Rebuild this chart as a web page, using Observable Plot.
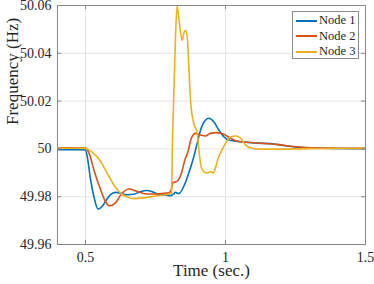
<!DOCTYPE html>
<html><head><meta charset="utf-8">
<script src="https://cdn.jsdelivr.net/npm/d3@7"></script>
<script src="https://cdn.jsdelivr.net/npm/@observablehq/plot@0.6"></script>
<style>
body{margin:0;background:#fff;}
#wrap{position:relative;width:374px;height:284px;}
#legend{position:absolute;left:292px;top:11px;width:65px;height:45px;border:1px solid #8c8c8c;background:#fff;font-family:"Liberation Serif",serif;font-size:12.5px;color:#262626;padding-top:1px;}
.row{display:flex;align-items:center;height:15.5px;white-space:nowrap}
.sw{width:21px;height:0;border-top:2px solid;margin-left:3px;margin-right:2px}
</style></head>
<body><div id="wrap"><div id="legend"></div></div>
<script>
const nodes = ["Node 1", "Node 2", "Node 3"];
const colors = ["#0072BD", "#D95319", "#EDB120"];
const xTicks = [0.5, 1, 1.5];
const xTickLabels = ["0.5", "1", "1.5"];
const yTicks = [49.96, 49.98, 50, 50.02, 50.04, 50.06];
const yTickLabels = ["49.96", "49.98", "50", "50.02", "50.04", "50.06"];
const xLabel = "Time (sec.)";
const yLabel = "Frequency (Hz)";

const node1T = [0.40,0.47,0.50,0.508,0.518,0.53,0.545,0.56,0.575,0.589,0.607,0.625,0.649,0.672,0.696,0.72,0.745,0.768,0.786,0.804,0.815,0.821,0.833,0.851,0.869,0.887,0.899,0.911,0.929,0.94,0.958,0.976,0.994,1.012,1.054,1.113,1.16,1.208,1.256,1.35,1.5];
const node1F = [49.9997,49.9997,49.9996,49.9955,49.9872,49.9800,49.9748,49.9760,49.9787,49.9808,49.9818,49.9815,49.9808,49.9810,49.9821,49.9826,49.9818,49.9808,49.9807,49.9804,49.9812,49.9818,49.9813,49.9843,49.9899,49.9968,50.0024,50.0079,50.0121,50.0128,50.0114,50.0079,50.0051,50.0037,50.0030,50.0024,50.0022,50.0014,50.0007,50.0003,50.0001];

const node2T = [0.40,0.47,0.50,0.515,0.53,0.554,0.571,0.587,0.607,0.625,0.655,0.685,0.72,0.756,0.798,0.806,0.812,0.827,0.843,0.855,0.866,0.878,0.893,0.911,0.929,0.946,0.97,0.994,1.012,1.042,1.113,1.185,1.244,1.304,1.4,1.5];
const node2F = [50.0005,50.0005,50.0004,49.9975,49.9912,49.9829,49.9780,49.9762,49.9774,49.9806,49.9832,49.9822,49.9811,49.9812,49.9816,49.9830,49.9858,49.9864,49.9900,49.9954,49.9988,50.0045,50.0065,50.0058,50.0054,50.0065,50.0068,50.0061,50.0049,50.0032,50.0025,50.0019,50.0010,50.0005,50.0003,50.0002];

const node3T = [0.40,0.47,0.50,0.515,0.53,0.554,0.577,0.601,0.625,0.649,0.672,0.708,0.756,0.798,0.807,0.811,0.816,0.821,0.827,0.837,0.845,0.851,0.858,0.864,0.868,0.875,0.886,0.899,0.905,0.913,0.922,0.935,0.946,0.956,0.964,0.976,0.988,1.0,1.018,1.036,1.054,1.071,1.095,1.125,1.2,1.3,1.5];
const node3F = [50.0003,50.0003,50.0002,49.9993,49.9980,49.9947,49.9899,49.9850,49.9815,49.9799,49.9792,49.9795,49.9804,49.9811,49.9815,50.0050,50.0250,50.0450,50.0598,50.0510,50.0454,50.0483,50.0496,50.0460,50.0370,50.0204,50.0110,50.0066,49.9996,49.9926,49.9905,49.9899,49.9905,49.9899,49.9920,49.9968,49.9996,50.0024,50.0049,50.0054,50.0045,50.0017,50.0003,49.9999,49.9999,50.0001,50.0002];

const series = [[node1T, node1F], [node2T, node2F], [node3T, node3F]];
const rows = [];
series.forEach(([T, F], k) => T.forEach((t, i) => rows.push({t, f: F[i], node: nodes[k]})));

const W = 374, H = 284, mL = 57, mR = 9, mT = 5, mB = 40;
const pw = W - mL - mR, ph = H - mT - mB, tk = 4;
const axisColor = "#888";
const serif = '"Liberation Serif", serif';

const chart = Plot.plot({
  width: W, height: H, marginLeft: mL, marginRight: mR, marginTop: mT, marginBottom: mB,
  style: {fontFamily: serif, fontSize: "14px", color: "#262626", background: "#fff", overflow: "visible"},
  x: {domain: [0.4, 1.5]},
  y: {domain: [49.96, 50.06]},
  color: {domain: nodes, range: colors},
  marks: [
    Plot.gridX(xTicks, {stroke: "#e3e3e3", strokeOpacity: 1}),
    Plot.gridY(yTicks, {stroke: "#e3e3e3", strokeOpacity: 1}),
    Plot.line(rows, {x: "t", y: "f", z: "node", stroke: "node", curve: "monotone-x", strokeWidth: 1.6, clip: true}),
    Plot.frame({stroke: axisColor}),
    Plot.tickX(xTicks, {x: d => d, insetTop: ph - tk, stroke: axisColor}),
    Plot.tickX(xTicks, {x: d => d, insetBottom: ph - tk, stroke: axisColor}),
    Plot.tickY(yTicks, {y: d => d, insetRight: pw - tk, stroke: axisColor}),
    Plot.tickY(yTicks, {y: d => d, insetLeft: pw - tk, stroke: axisColor}),
    Plot.axisX(xTicks, {tickSize: 0, tickPadding: 8, label: null, fontFamily: serif, tickFormat: d => xTickLabels[xTicks.indexOf(d)]}),
    Plot.axisY(yTicks, {tickSize: 0, tickPadding: 6, label: null, fontFamily: serif, tickFormat: d => yTickLabels[yTicks.indexOf(d)]}),
    Plot.text([xLabel], {text: d => d, frameAnchor: "bottom", dy: 31.5, fontSize: 17, fontFamily: serif, fill: "#262626"}),
    Plot.text([yLabel], {text: d => d, frameAnchor: "left", dx: -45, rotate: -90, fontSize: 17, fontFamily: serif, fill: "#262626"})
  ]
});
document.getElementById("wrap").prepend(chart);

const legend = document.getElementById("legend");
nodes.forEach((n, i) => {
  const r = document.createElement("div");
  r.className = "row";
  const s = document.createElement("span");
  s.className = "sw";
  s.style.borderTopColor = colors[i];
  const t = document.createElement("span");
  t.textContent = n;
  r.append(s, t);
  legend.append(r);
});
</script></body></html>
